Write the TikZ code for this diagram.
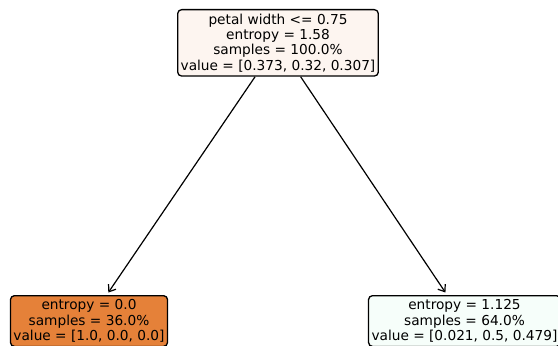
\documentclass[tikz,border=0pt]{standalone}
\usepackage{fontspec}
\setmainfont{DejaVu Sans}
\usetikzlibrary{arrows.meta}
\definecolor{rootfill}{HTML}{FDF5F0}
\definecolor{leftfill}{HTML}{E58139}
\definecolor{rightfill}{HTML}{F6FEFA}
\tikzset{
  treenode/.style={draw=black, line width=1.3bp, rounded corners=4bp, align=center,
    inner xsep=3bp, inner ysep=4bp, font=\fontsize{13.7bp}{15.4bp}\selectfont, anchor=north},
  edge/.style={line width=1.2bp, shorten >=3bp, -{Straight Barb[length=6bp,width=9bp,line width=1.2bp]}}
}
\begin{document}
\begin{tikzpicture}[x=1bp,y=1bp]
\useasboundingbox (0,0) rectangle (558,345);
\node[treenode, fill=rootfill] (root) at (278,336) {petal width <= 0.75\\entropy = 1.58\\samples = 100.0\%\\value = [0.373, 0.32, 0.307]};
\node[treenode, fill=leftfill] (left) at (89,50) {entropy = 0.0\\samples = 36.0\%\\value = [1.0, 0.0, 0.0]};
\node[treenode, fill=rightfill] (right) at (464.5,50) {entropy = 1.125\\samples = 64.0\%\\value = [0.021, 0.5, 0.479]};
\draw[edge] (root) -- (left);
\draw[edge] (root) -- (right);
\end{tikzpicture}
\end{document}
